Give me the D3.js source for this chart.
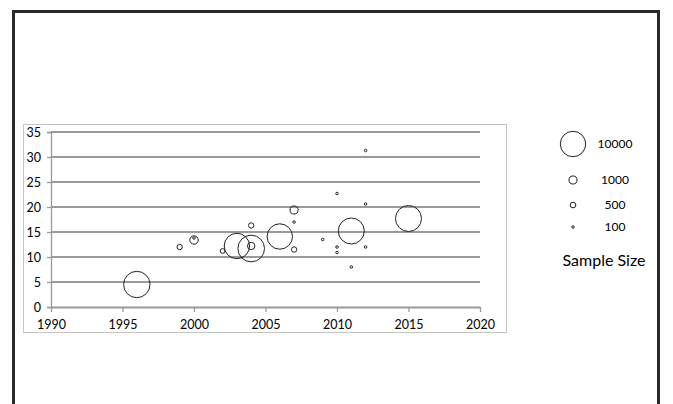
<!DOCTYPE html>
<html>
<head>
<meta charset="utf-8">
<script src="https://cdn.jsdelivr.net/npm/d3@7"></script>
<style>
  html, body { margin: 0; padding: 0; background: #fff; }
  svg { display: block; }
  text { font-family: Lato, "Liberation Sans", sans-serif; fill: #000; }
</style>
</head>
<body>
<svg id="chart" width="673" height="404"></svg>
<script>
// Study year, reported value and sample size for each study
const years  = [1996, 1999, 2000, 2000, 2002, 2003, 2004, 2004, 2004, 2006, 2007, 2007, 2007, 2009, 2010, 2010, 2010, 2011, 2011, 2012, 2012, 2012, 2015];
const values = [4.5, 12.0, 13.4, 13.8, 11.2, 12.2, 11.7, 12.2, 16.3, 14.1, 19.4, 17.0, 11.5, 13.5, 22.7, 12.0, 10.9, 15.2, 8.0, 31.3, 20.6, 12.0, 17.7];
const sizes  = [10800, 450, 1100, 100, 350, 10000, 11000, 850, 450, 10000, 1000, 100, 450, 100, 100, 100, 100, 10500, 100, 100, 100, 100, 10500];

const xTicks = [1990, 1995, 2000, 2005, 2010, 2015, 2020];
const yTicks = [0, 5, 10, 15, 20, 25, 30, 35];
const legendSizes = [10000, 1000, 500, 100];
const legendTitle = "Sample Size";

const svg = d3.select("#chart");

// Outer frame
svg.append("rect")
  .attr("x", 13.5).attr("y", 11.5)
  .attr("width", 645).attr("height", 420)
  .attr("fill", "none").attr("stroke", "#2a2a2a").attr("stroke-width", 3);

// Chart box
svg.append("rect")
  .attr("x", 23.5).attr("y", 124.5)
  .attr("width", 483).attr("height", 208)
  .attr("fill", "none").attr("stroke", "#c4c4c4").attr("stroke-width", 1);

const x = d3.scaleLinear().domain([1990, 2020]).range([51, 480]);
const y = d3.scaleLinear().domain([0, 35]).range([307, 132]);
const r = d3.scaleSqrt().domain([0, 10000]).range([0, 12.7]);

// Horizontal gridlines
svg.append("g")
  .selectAll("line")
  .data(yTicks.filter(d => d > 0))
  .join("line")
  .attr("x1", x(1990)).attr("x2", x(2020))
  .attr("y1", d => y(d)).attr("y2", d => y(d))
  .attr("stroke", "#9a9a9a").attr("stroke-width", 1.8);

// Y axis
const yAxis = svg.append("g")
  .attr("transform", `translate(${x(1990)},0)`)
  .call(d3.axisLeft(y).tickValues(yTicks).tickSize(4).tickPadding(6).tickFormat(d3.format("d")));
yAxis.select(".domain").attr("stroke", "#9a9a9a").attr("stroke-width", 1.3);
yAxis.selectAll(".tick line").attr("stroke", "#9a9a9a").attr("stroke-width", 1.3);
yAxis.selectAll("text").attr("font-size", 12.5).attr("font-family", "Lato, sans-serif").attr("fill", "#000");

// X axis
const xAxis = svg.append("g")
  .attr("transform", `translate(0,${y(0)})`)
  .call(d3.axisBottom(x).tickValues(xTicks).tickSize(5).tickSizeOuter(0).tickPadding(8).tickFormat(d3.format("d")));
xAxis.select(".domain").attr("stroke", "#9a9a9a").attr("stroke-width", 1.8);
xAxis.selectAll(".tick line").attr("stroke", "#9a9a9a").attr("stroke-width", 1.3);
xAxis.selectAll("text").attr("font-size", 12.5).attr("font-family", "Lato, sans-serif").attr("fill", "#000");

// Bubbles
const points = years.map((yr, i) => ({ year: yr, value: values[i], size: sizes[i] }));
svg.append("g")
  .selectAll("circle")
  .data(points)
  .join("circle")
  .attr("cx", d => x(d.year))
  .attr("cy", d => y(d.value))
  .attr("r", d => r(d.size))
  .attr("fill", "none")
  .attr("stroke", "#222")
  .attr("stroke-width", 1);

// Size legend
const legendRows = [144, 180, 205, 227];
const legend = svg.append("g");
legendSizes.forEach((s, i) => {
  legend.append("circle")
    .attr("cx", 573).attr("cy", legendRows[i])
    .attr("r", r(s))
    .attr("fill", "none").attr("stroke", "#222").attr("stroke-width", 1);
  legend.append("text")
    .attr("x", 615).attr("y", legendRows[i])
    .attr("dy", "0.35em")
    .attr("text-anchor", "middle")
    .attr("font-size", 12)
    .text(d3.format("d")(s));
});
legend.append("text")
  .attr("x", 604).attr("y", 266)
  .attr("text-anchor", "middle")
  .attr("font-size", 16)
  .text(legendTitle);
</script>
</body>
</html>
